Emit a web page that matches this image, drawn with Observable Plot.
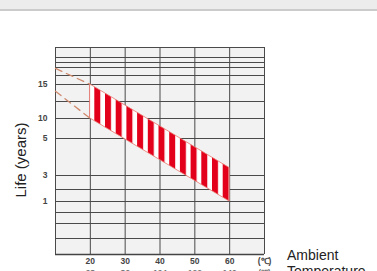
<!DOCTYPE html>
<html><head><meta charset="utf-8">
<script src="https://cdn.jsdelivr.net/npm/d3@7"></script>
<script src="https://cdn.jsdelivr.net/npm/@observablehq/plot@0.6"></script>
<style>
body{margin:0;background:#fff;width:377px;height:271px;overflow:hidden;position:relative;font-family:Arial,"Liberation Sans",sans-serif;}
#bar{position:absolute;left:0;top:0;width:377px;height:9px;background:#ececec;border-bottom:2px solid #cbcbcb;z-index:2}
#chart{position:absolute;left:0;top:0}
#ylab{position:absolute;left:-39px;top:152px;width:120px;text-align:center;font-size:15px;line-height:16px;color:#222;transform:rotate(-90deg);transform-origin:center;white-space:nowrap}
#xlab{position:absolute;left:287px;top:247px;font-size:14px;line-height:16px;color:#222}
</style></head>
<body>
<div id="bar"></div>
<div id="chart"></div>
<div id="ylab">Life (years)</div>
<div id="xlab">Ambient<br>Temperature</div>
<script>
const temps = [20, 60];
const lifeHigh = [15, 3.4];
const lifeLow = [10, 1];
const dashTemps = [10, 20];
const dashHigh = [19.7, 15];
const dashLow = [14, 10];
const gridTemps = [10, 20, 30, 40, 50, 60, 70];
const gridLife = [0, 0.25, 0.5, 0.75, 1, 2, 3, 5, 10, 12.5, 15, 17.5, 20, 22.5, 25, 30];
const yTicks = [1, 3, 5, 10, 15];
const xTicks = [20, 30, 40, 50, 60, 70];
const fTicks = ["68", "86", "104", "122", "140", "(℉)"];

const band = temps.map((t, i) => ({t, lo: lifeLow[i], hi: lifeHigh[i]}));
const dashA = dashTemps.map((t, i) => ({t, v: dashHigh[i]}));
const dashB = dashTemps.map((t, i) => ({t, v: dashLow[i]}));

const svg = Plot.plot({
  width: 377, height: 271,
  marginTop: 47, marginBottom: 17, marginLeft: 55, marginRight: 113,
  style: {fontFamily: "Arial, 'Liberation Sans', sans-serif", background: "transparent"},
  x: {type: "linear", domain: [10, 70]},
  y: {type: "linear", domain: gridLife,
      range: [254, 238, 223, 212, 201, 189, 175, 138, 118, 101, 84, 75, 67, 62, 57, 47]},
  marks: [
    Plot.frame({fill: "#f2f2f2", stroke: null}),
    Plot.ruleY(gridLife, {stroke: "#4a4a4a", strokeWidth: 1}),
    Plot.ruleX(gridTemps, {stroke: "#4a4a4a", strokeWidth: 1}),
    Plot.ruleY([0], {stroke: "#444", strokeWidth: 1.6}),
    Plot.areaY(band, {x: "t", y1: "lo", y2: "hi", fill: "url(#stripes)", stroke: "#e8746a", strokeWidth: 0.8}),
    Plot.line(dashA, {x: "t", y: "v", stroke: "#cf8a6e", strokeWidth: 1.3, strokeDasharray: "7,5"}),
    Plot.line(dashB, {x: "t", y: "v", stroke: "#cf8a6e", strokeWidth: 1.3, strokeDasharray: "7,5"}),
    Plot.axisY(yTicks, {tickSize: 0, tickPadding: 8, fontSize: 8.5, fontWeight: "bold", fill: "#444", label: null}),
    Plot.axisX(xTicks, {tickSize: 0, tickPadding: 3, fontSize: 8.5, fontWeight: "bold", fill: "#444", label: null,
      tickFormat: d => d === 70 ? "(℃)" : String(d)}),
    Plot.axisX(xTicks, {tickSize: 0, tickPadding: 15, fontSize: 8.5, fontWeight: "bold", fill: "#777", label: null,
      tickFormat: d => fTicks[xTicks.indexOf(d)]})
  ]
});
const ns = "http://www.w3.org/2000/svg";
const defs = document.createElementNS(ns, "defs");
defs.innerHTML = '<pattern id="stripes" patternUnits="userSpaceOnUse" x="8.7" y="0" width="10.7" height="10"><rect width="10.7" height="10" fill="#fff"/><rect width="6" height="10" fill="#e3001b"/></pattern>';
svg.insertBefore(defs, svg.firstChild);
document.getElementById("chart").appendChild(svg);
</script>
</body></html>
